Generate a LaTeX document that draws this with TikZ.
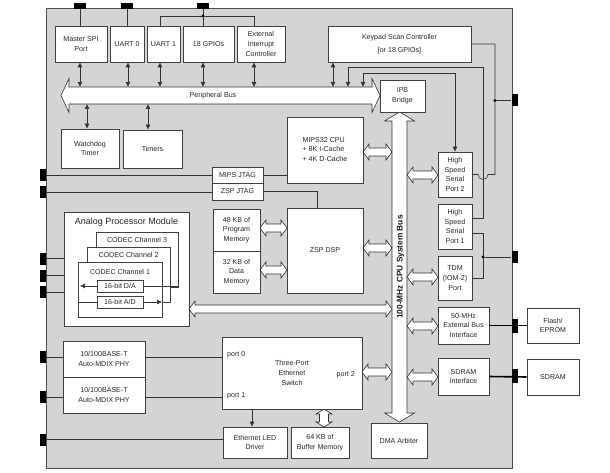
\documentclass[tikz,border=0pt]{standalone}
\usepackage{fontspec}
\setmainfont{Liberation Sans}
\usetikzlibrary{arrows.meta}
\definecolor{chipgray}{RGB}{212,212,212}
\newcommand\fs{\fontsize{7.1}{9.6}\selectfont}
\newcommand\blk[6]{\node[box, minimum width={(#4-#2)*1pt}, minimum height={(#5-#3)*1pt}] (#1) at ({(#2+#4)/2},{(#3+#5)/2}) {#6};}
% hollow horizontal double arrow: x1 x2 y h H L
\newcommand\hha[6]{\draw[hollow] (#1,#3) -- ({#1+#6},{#3-#5}) -- ({#1+#6},{#3-#4}) -- ({#2-#6},{#3-#4}) -- ({#2-#6},{#3-#5}) -- (#2,#3) -- ({#2-#6},{#3+#5}) -- ({#2-#6},{#3+#4}) -- ({#1+#6},{#3+#4}) -- ({#1+#6},{#3+#5}) -- cycle;}
% hollow vertical double arrow: y1 y2 x h H L
\newcommand\hva[6]{\draw[hollow] (#3,#1) -- ({#3-#5},{#1+#6}) -- ({#3-#4},{#1+#6}) -- ({#3-#4},{#2-#6}) -- ({#3-#5},{#2-#6}) -- (#3,#2) -- ({#3+#5},{#2-#6}) -- ({#3+#4},{#2-#6}) -- ({#3+#4},{#1+#6}) -- ({#3+#5},{#1+#6}) -- cycle;}
\begin{document}
\begin{tikzpicture}[x=1pt,y=-1pt,
  box/.style={draw=black!75, fill=white, line width=0.6pt, font=\fs, align=center, inner sep=0pt, text=black!85},
  lbl/.style={font=\fs, inner sep=0pt, text=black!85},
  hollow/.style={draw=black!80, fill=white, line width=0.6pt},
  wire/.style={draw=black!80, line width=0.6pt},
  thick wire/.style={draw=black, line width=1.6pt},
  tarrow/.style={wire, {Latex[length=5pt,width=5pt]}-{Latex[length=5pt,width=5pt]}},
  sarrow/.style={wire, -{Latex[length=5pt,width=5pt]}},
  pinh/.style={fill=black, minimum width=12pt, minimum height=6pt, inner sep=0pt},
  pinv/.style={fill=black, minimum width=6pt, minimum height=12pt, inner sep=0pt},
  dotc/.style={fill=black}]
\useasboundingbox (0,0) rectangle (610,473);
% chip outline
\draw[fill=chipgray, draw=black!70, line width=0.9pt] (46,8) rectangle (512,468);

% big buses
\hha{61}{380}{95.5}{8.5}{17}{8}
\node[lbl] (pbus) at (213,95.5) {Peripheral Bus};
\hva{112}{422}{399.5}{7.5}{15}{9}
\node[inner sep=0pt, rotate=90, font=\fontsize{8.3}{10}\selectfont\bfseries, text=black!90] (cbus) at (400.5,267) {100-MHz CPU System Bus};
\coordinate (busT) at (0,87);
\coordinate (busB) at (0,104);

% top row
\blk{spi}{55}{26}{107}{62}{Master SPI\\Port}
\blk{uart0}{110}{26}{144}{62}{UART 0}
\blk{uart1}{147}{26}{180}{62}{UART 1}
\blk{gpio}{183}{26}{234}{62}{18 GPIOs}
\blk{eic}{237}{26}{285}{62}{External\\Interrupt\\Controller}
\blk{keypad}{328}{26}{471}{62}{Keypad Scan Controller\\[4pt][or 18 GPIOs]}
\blk{ipb}{380}{80}{425}{112}{IPB\\Bridge}
\blk{wdt}{61}{129}{119}{168}{Watchdog\\Timer}
\blk{timers}{123}{130}{182}{168}{Timers}

% CPU / DSP
\blk{mips}{287}{117}{363}{183}{\begin{tabular}{@{}l@{}}MIPS32 CPU\\+ 8K I-Cache\\+ 4K D-Cache\end{tabular}}
\blk{mjtag}{212}{167}{263}{183}{MIPS JTAG}
\blk{zjtag}{212}{183}{263}{200}{ZSP JTAG}
\blk{pmem}{213}{209}{260}{251}{48 KB of\\Program\\Memory}
\blk{dmem}{213}{251}{260}{293}{32 KB of\\Data\\Memory}
\blk{zsp}{287}{208}{363}{293}{ZSP DSP}

% analog module
\blk{apm}{64}{212}{189}{326}{}
\node[inner sep=0pt, font=\fontsize{9}{11}\selectfont, text=black!85] (apmt) at (126.5,222) {Analog Processor Module};
\blk{ch3}{96}{232}{178}{287}{}
\node[lbl] (ch3t) at ([yshift=-8pt]ch3.north) {CODEC Channel 3};
\blk{ch2}{87}{247}{170}{302}{}
\node[lbl] (ch2t) at ([yshift=-8pt]ch2.north) {CODEC Channel 2};
\blk{ch1}{78}{262}{162}{317}{}
\node[lbl] (ch1t) at ([yshift=-10pt]ch1.north) {CODEC Channel 1};
\blk{da}{97}{280}{143}{292}{16-bit D/A}
\blk{ad}{97}{296}{143}{308}{16-bit A/D}
\coordinate (daR) at (178,286);
\coordinate (daL) at (80,286);
\coordinate (adL) at (78,302);
\coordinate (adR) at (162,302);
\draw[wire] (daR) -- (da.east);
\draw[sarrow] (da.west) -- (daL);
\draw[wire] (adL) -- (ad.west);
\draw[sarrow] (ad.east) -- (adR);

% right column
\blk{hssp2}{438}{152}{472}{197}{High\\Speed\\Serial\\Port 2}
\blk{hssp1}{438}{204}{472}{249}{High\\Speed\\Serial\\Port 1}
\blk{tdm}{438}{256}{472}{300}{TDM\\(IOM-2)\\Port}
\blk{ebi}{438}{307}{489}{344}{50-MHz\\External Bus\\Interface}
\blk{sdrami}{438}{358}{489}{395}{SDRAM\\Interface}
\blk{flash}{527}{308}{579}{343}{Flash/\\EPROM}
\blk{sdram}{527}{359}{579}{395}{SDRAM}
\blk{dma}{371}{423}{427}{458}{DMA Arbiter}

% ethernet
\blk{phy1}{63}{341}{145}{377}{10/100BASE-T\\Auto-MDIX PHY}
\blk{phy2}{63}{377}{145}{413}{10/100BASE-T\\Auto-MDIX PHY}
\blk{sw}{222}{337}{362}{409}{Three-Port\\Ethernet\\Switch}
\node[lbl, anchor=west] (p0) at (227,355) {port 0};
\node[lbl, anchor=west] (p1) at (227,396) {port 1};
\node[lbl, anchor=east] (p2) at (355,375) {port 2};
\blk{led}{223}{427}{287}{458}{Ethernet LED\\Driver}
\blk{buf}{291}{427}{349}{458}{64 KB of\\Buffer Memory}

% hollow double arrows
\hha{363}{392}{152}{4}{8}{6}
\hha{363}{392}{248}{4}{8}{6}
\hha{407}{438}{175}{4}{8}{6}
\hha{407}{438}{277}{4}{8}{6}
\hha{407}{438}{326}{4}{8}{6}
\hha{407}{438}{377}{4}{8}{6}
\hha{362}{392}{372}{4}{8}{6}
\hha{260}{287}{228}{4}{8}{6}
\hha{260}{287}{270}{4}{8}{6}
\hha{189}{392}{309}{4}{8}{6}
\hva{409}{427}{324}{4.5}{8}{5}

% pins
\node[pinh] (pt1) at (80,6) {};
\node[pinh] (pt2) at (127,6) {};
\node[pinh] (pt3) at (203,6) {};
\node[pinv] (pl1) at (43,175) {};
\node[pinv] (pl2) at (43,192) {};
\node[pinv] (pl3) at (43,258.5) {};
\node[pinv] (pl4) at (43,275.5) {};
\node[pinv] (pl5) at (43,292) {};
\node[pinv] (pl6) at (43,357) {};
\node[pinv] (pl7) at (43,397) {};
\node[pinv] (pl8) at (43,439.5) {};
\node[pinv] (pr1) at (514.5,100.5) {};
\node[pinv] (pr2) at (514.5,257) {};
\node[pinv, minimum height=14pt] (pr3) at (514.5,326) {};
\node[pinv, minimum height=14pt] (pr4) at (514.5,376) {};

% top pin wires
\draw[wire] (pt1.south) -- (pt1.south |- spi.north);
\draw[wire] (pt2.south) -- (pt2.south |- uart0.north);
\coordinate (dg) at (203,16);
\draw[wire] (pt3.south) -- (dg);
\draw[wire] (160,16 |- uart1.north) -- (160,16) -- (254,16) -- (254,16 |- eic.north);
\draw[wire] (dg) -- (dg |- gpio.north);
\fill[dotc] (dg) circle (1.7pt);

% peripheral connections
\draw[tarrow] (80,0 |- spi.south) -- (80,0 |- busT);
\draw[tarrow] (128,0 |- uart0.south) -- (128,0 |- busT);
\draw[tarrow] (160,0 |- uart1.south) -- (160,0 |- busT);
\draw[tarrow] (203,0 |- gpio.south) -- (203,0 |- busT);
\draw[tarrow] (254,0 |- eic.south) -- (254,0 |- busT);
\draw[tarrow] (333,0 |- keypad.south) -- (333,0 |- busT);
\draw[tarrow] (87,0 |- busB) -- (87,0 |- wdt.north);
\draw[tarrow] (148,0 |- busB) -- (148,0 |- timers.north);

% keypad / HSSP2 to pin
\coordinate (dk) at (495,100.5);
\draw[wire] (keypad.east) -- (495,0 |- keypad.east) -- (495,174.5) -- (488,174.5) arc (0:180:5) -- (hssp2.east);
\draw[wire] (dk) -- (pr1.west);
\fill[dotc] (dk) circle (1.7pt);

% HSSP1 to bus
\draw[sarrow] (hssp1.east |- 0,218) -- (483,218) -- (483,67) -- (348,67) -- (348,0 |- busT);
% bus to HSSP2
\draw[tarrow] (363,0 |- busT) -- (363,73) -- (455,73) -- (hssp2.north);
% HSSP1 / TDM to pin
\coordinate (dt) at (483,257);
\draw[wire] (hssp1.east |- 0,233) -- (483,233) -- (483,0 |- tdm.east) -- (tdm.east);
\draw[wire] (dt) -- (pr2.west);
\fill[dotc] (dt) circle (1.7pt);

% JTAG
\draw[wire] (pl1.east) -- (mjtag.west);
\draw[wire] (mjtag.east) -- (mjtag.east -| mips.west);
\draw[wire] (pl2.east) -- (pl2.east -| zjtag.west);
\draw[wire] (zjtag.east) -| ([xshift=-8pt]zsp.north);

% analog pins
\draw[wire] (pl3.east) -- (pl3.east -| apm.west);
\draw[wire] (pl4.east) -- (pl4.east -| apm.west);
\draw[wire] (pl5.east) -- (pl5.east -| apm.west);

% ethernet wires
\draw[wire] (pl6.east) -- (pl6.east -| phy1.west);
\draw[wire] (pl6.east -| phy1.east) -- (pl6.east -| sw.west);
\draw[wire] (pl7.east) -- (pl7.east -| phy2.west);
\draw[wire] (pl7.east -| phy2.east) -- (pl7.east -| sw.west);
\draw[wire] (pl8.east) -- (pl8.east -| led.west);
\draw[sarrow] ([xshift=-3pt]led.north |- sw.south) -- ([xshift=-3pt]led.north);

% external memory
\draw[thick wire] (ebi.east) -- (flash.west);
\draw[thick wire] (sdrami.east) -- (sdram.west);
\end{tikzpicture}
\end{document}
